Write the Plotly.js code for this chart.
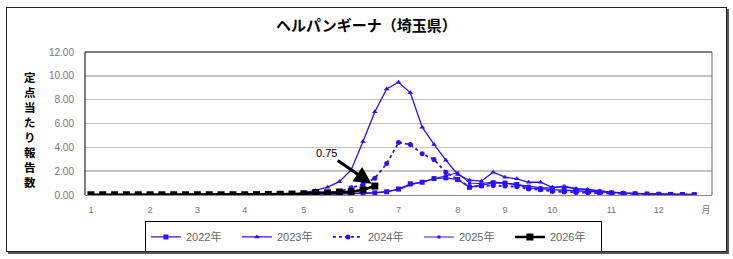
<!DOCTYPE html>
<html>
<head>
<meta charset="utf-8">
<script src="https://cdn.plot.ly/plotly-3.0.1.min.js"></script>
<style>
  html, body { margin: 0; padding: 0; background: #ffffff; }
  #wrap { position: relative; width: 733px; height: 259px; }
  #chart { position: absolute; left: 0; top: 0; width: 733px; height: 259px; }
  #frame { position: absolute; left: 6px; top: 7px; width: 719px; height: 243px;
           border: 1px solid #222; box-shadow: 2px 2px 0 #555; pointer-events: none; }
</style>
</head>
<body>
<div id="wrap">
  <div id="chart"></div>
  <div id="frame"></div>
</div>
<script>
// Week numbers (x categories)
const weeks = [1,2,3,4,5,6,7,8,9,10,11,12,13,14,15,16,17,18,19,20,21,22,23,24,25,26,
               27,28,29,30,31,32,33,34,35,36,37,38,39,40,41,42,43,44,45,46,47,48,49,50,51,52];
const weeks2026 = [1,2,3,4,5,6,7,8,9,10,11,12,13,14,15,16,17,18,19,20,21,22,23,24,25];

// Month tick labels
const monthTickWeeks = [1,6,10,14,19,23,27,32,36,40,45,49,53];
const monthTickText = ['1','2','3','4','5','6','7','8','9','10','11','12','月'];

const seriesNames = ['2022年','2023年','2024年','2025年','2026年'];

const v2022 = [0.01,0.01,0.01,0.01,0.01,0.01,0.01,0.01,0.01,0.01,0.01,0.01,0.01,0.01,0.01,0.01,
               0.02,0.03,0.04,0.05,0.06,0.08,0.10,0.12,0.18,0.27,0.50,0.94,1.07,1.38,1.44,1.30,
               0.65,0.80,1.02,1.00,0.88,0.60,0.50,0.45,0.40,0.35,0.30,0.25,0.18,0.12,0.10,0.08,
               0.06,0.05,0.04,0.03];
const v2023 = [0.00,0.00,0.00,0.00,0.00,0.00,0.00,0.00,0.00,0.00,0.01,0.01,0.01,0.02,0.03,0.04,
               0.06,0.10,0.20,0.38,0.66,1.12,2.10,4.50,6.98,8.90,9.46,8.57,5.69,4.24,2.92,1.72,
               1.24,1.16,1.91,1.50,1.36,1.07,1.07,0.65,0.69,0.52,0.46,0.32,0.23,0.18,0.14,0.10,
               0.08,0.06,0.05,0.04];
const v2024 = [0.00,0.00,0.00,0.00,0.00,0.00,0.00,0.00,0.00,0.00,0.00,0.00,0.00,0.00,0.00,0.01,
               0.03,0.05,0.08,0.12,0.20,0.30,0.60,0.90,1.40,2.64,4.40,4.24,3.46,2.98,1.91,1.30,
               0.70,0.75,0.80,0.75,0.70,0.50,0.45,0.30,0.25,0.20,0.18,0.15,0.12,0.10,0.08,0.06,
               0.05,0.04,0.03,0.02];
const v2025 = [0.01,0.01,0.01,0.01,0.01,0.01,0.01,0.01,0.01,0.01,0.01,0.01,0.01,0.01,0.02,0.02,
               0.03,0.04,0.05,0.06,0.08,0.10,0.12,0.15,0.20,0.30,0.45,0.85,1.10,1.40,1.65,1.86,
               1.00,0.95,1.10,1.00,0.90,0.75,0.60,0.60,0.74,0.55,0.45,0.35,0.20,0.15,0.12,0.10,
               0.08,0.06,0.05,0.04];
const v2026 = [0.02,0.02,0.02,0.02,0.02,0.02,0.02,0.02,0.02,0.02,0.02,0.02,0.02,0.02,0.03,0.04,
               0.06,0.08,0.10,0.20,0.18,0.25,0.27,0.44,0.75];

const blue = '#2a10ff';
const fontFam = '"Liberation Sans", "Noto Sans CJK JP", sans-serif';

const traces = [
  { x: weeks, y: v2022, name: seriesNames[0], mode: 'lines+markers',
    line: { color: blue, width: 1.3 }, marker: { symbol: 'square', size: 5, color: blue } },
  { x: weeks, y: v2023, name: seriesNames[1], mode: 'lines+markers',
    line: { color: blue, width: 1.3 }, marker: { symbol: 'triangle-up', size: 5, color: blue } },
  { x: weeks, y: v2024, name: seriesNames[2], mode: 'lines+markers',
    line: { color: blue, width: 1.8, dash: 'dot' }, marker: { symbol: 'circle', size: 5, color: blue } },
  { x: weeks, y: v2025, name: seriesNames[3], mode: 'lines+markers',
    line: { color: blue, width: 1.1 }, marker: { symbol: 'square', size: 3, color: blue } },
  { x: weeks2026, y: v2026, name: seriesNames[4], mode: 'lines+markers',
    line: { color: '#000000', width: 2.5 }, marker: { symbol: 'square', size: 7, color: '#000000' } }
];

const lastIdx = v2026.length - 1;

const layout = {
  width: 733, height: 259,
  margin: { l: 85, r: 21, t: 52, b: 63.5, pad: 0, autoexpand: false },
  paper_bgcolor: '#ffffff',
  plot_bgcolor: '#ffffff',
  font: { family: fontFam, size: 10, color: '#666666' },
  title: { text: '<b>ヘルパンギーナ（埼玉県）</b>', x: 0.5, xanchor: 'center', y: 0.9, yanchor: 'middle',
           yref: 'container', font: { family: '"Noto Sans CJK JP", sans-serif', size: 15, color: '#000000' } },
  showlegend: true,
  legend: { orientation: 'h', x: 0.46, xanchor: 'center', y: -0.185, yanchor: 'top',
            bordercolor: '#000000', borderwidth: 1, bgcolor: '#ffffff',
            font: { family: fontFam, size: 11, color: '#666666' },
            entrywidth: 46, entrywidthmode: 'pixels', itemwidth: 30, traceorder: 'normal',
            tracegroupgap: 0 },
  xaxis: {
    range: [0.5, 53.5], tickmode: 'array', tickvals: monthTickWeeks, ticktext: monthTickText,
    showgrid: false, zeroline: false, showline: true, linecolor: '#888888', linewidth: 1,
    ticks: '', ticklabelstandoff: 6, tickfont: { size: 9, color: '#777777' }
  },
  yaxis: {
    range: [0, 12], tickmode: 'array', tickvals: [0,2,4,6,8,10,12],
    tickformat: '.2f', showgrid: true, gridcolor: '#c4c4c4', gridwidth: 1.5,
    zeroline: false, showline: false, ticks: '', ticklabelstandoff: 10,
    tickfont: { size: 10, color: '#777777' }
  },
  shapes: [
    { type: 'line', xref: 'paper', yref: 'paper', x0: 0, x1: 0, y0: 0, y1: 1,
      line: { color: '#000000', width: 1 } },
    { type: 'line', xref: 'paper', yref: 'paper', x0: 0, x1: 1, y0: 1, y1: 1,
      line: { color: '#000000', width: 1 } },
    { type: 'line', xref: 'paper', yref: 'paper', x0: 1, x1: 1, y0: 0, y1: 1,
      line: { color: '#666666', width: 1 } }
  ],
  annotations: [
    { x: weeks2026[lastIdx], y: v2026[lastIdx], xref: 'x', yref: 'y',
      text: String(v2026[lastIdx].toFixed(2)), showarrow: true,
      arrowhead: 2, arrowsize: 1.15, arrowwidth: 3, arrowcolor: '#000000',
      ax: -48, ay: -33, standoff: 4,
      font: { family: fontFam, size: 11, color: '#000000' } },
    { xref: 'paper', yref: 'paper', x: -0.088, y: 0.46, xanchor: 'center', yanchor: 'middle',
      showarrow: false,
      text: '<b>定<br>点<br>当<br>た<br>り<br>報<br>告<br>数</b>',
      font: { family: '"Noto Sans CJK JP", sans-serif', size: 11.5, color: '#000000' } }
  ]
};

Plotly.newPlot('chart', traces, layout, { staticPlot: true, displayModeBar: false });
</script>
</body>
</html>
